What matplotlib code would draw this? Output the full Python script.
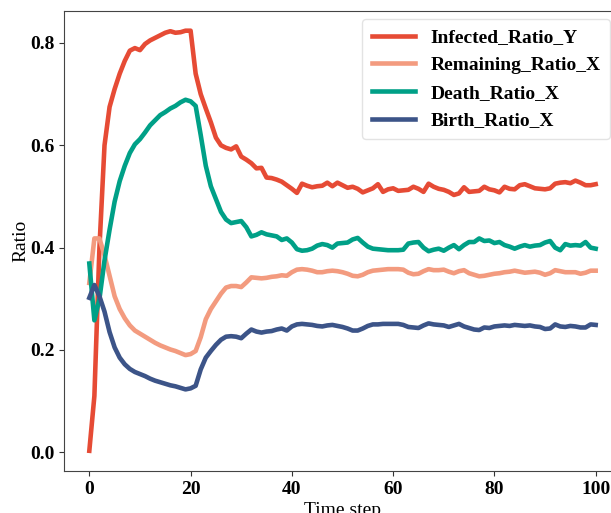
import matplotlib
matplotlib.use("Agg")
import matplotlib.pyplot as plt

steps = list(range(101))

infected_ratio_y = [
    0.003, 0.11, 0.40, 0.60, 0.675, 0.71, 0.74, 0.765, 0.785, 0.79,
    0.786, 0.798, 0.805, 0.81, 0.815, 0.82, 0.823, 0.82, 0.821, 0.824,
    0.824, 0.74, 0.70, 0.672, 0.645, 0.615, 0.60, 0.595, 0.592, 0.598,
    0.578, 0.572, 0.565, 0.555, 0.556, 0.537, 0.536, 0.533, 0.529, 0.522,
    0.515, 0.507, 0.525, 0.521, 0.518, 0.52, 0.521, 0.527, 0.52, 0.527,
    0.522, 0.517, 0.519, 0.515, 0.508, 0.512, 0.516, 0.524, 0.509, 0.514,
    0.516, 0.511, 0.512, 0.513, 0.519, 0.515, 0.509, 0.525, 0.519, 0.515,
    0.513, 0.509, 0.503, 0.506, 0.518, 0.509, 0.51, 0.511, 0.519, 0.514,
    0.512, 0.508, 0.519, 0.515, 0.514, 0.522, 0.524, 0.52, 0.516, 0.515,
    0.514, 0.516, 0.525, 0.527, 0.528, 0.526, 0.531, 0.527, 0.522, 0.522,
    0.524]

remaining_ratio_x = [
    0.331, 0.418, 0.418, 0.385, 0.345, 0.305, 0.28, 0.262, 0.248, 0.238,
    0.232, 0.226, 0.22, 0.214, 0.209, 0.205, 0.201, 0.198, 0.194, 0.19,
    0.192, 0.198, 0.225, 0.26, 0.28, 0.295, 0.31, 0.322, 0.325, 0.325,
    0.323, 0.332, 0.342, 0.341, 0.34, 0.341, 0.343, 0.344, 0.346, 0.345,
    0.352, 0.357, 0.358, 0.357, 0.355, 0.352, 0.352, 0.354, 0.355, 0.354,
    0.352, 0.349, 0.345, 0.344, 0.347, 0.352, 0.355, 0.356, 0.357, 0.358,
    0.358, 0.358, 0.357, 0.351, 0.348, 0.349, 0.354, 0.358, 0.356, 0.356,
    0.357, 0.353, 0.35, 0.354, 0.356, 0.35, 0.347, 0.344, 0.345, 0.347,
    0.349, 0.35, 0.352, 0.353, 0.355, 0.353, 0.351, 0.352, 0.353, 0.351,
    0.347, 0.35, 0.356, 0.354, 0.352, 0.352, 0.352, 0.349, 0.351, 0.355,
    0.355]

death_ratio_x = [
    0.369, 0.258, 0.30, 0.375, 0.435, 0.49, 0.53, 0.56, 0.585, 0.602,
    0.612, 0.625, 0.639, 0.649, 0.659, 0.665, 0.672, 0.677, 0.684, 0.689,
    0.686, 0.677, 0.62, 0.56, 0.52, 0.495, 0.47, 0.455, 0.448, 0.45,
    0.452, 0.44, 0.422, 0.425, 0.43, 0.426, 0.424, 0.422, 0.415, 0.418,
    0.41, 0.397, 0.394, 0.395, 0.398, 0.404, 0.407, 0.405, 0.40, 0.408,
    0.409, 0.41, 0.416, 0.419, 0.41, 0.402, 0.398, 0.397, 0.396, 0.395,
    0.395, 0.395, 0.396, 0.408, 0.41, 0.411, 0.40, 0.393, 0.396, 0.398,
    0.394, 0.40, 0.405, 0.397, 0.405, 0.411, 0.411, 0.418, 0.413, 0.414,
    0.409, 0.411, 0.405, 0.402, 0.398, 0.402, 0.405, 0.402, 0.404, 0.405,
    0.41, 0.413, 0.40, 0.395, 0.407, 0.404, 0.405, 0.404, 0.411, 0.40,
    0.398]

birth_ratio_x = [
    0.302, 0.327, 0.305, 0.275, 0.235, 0.205, 0.185, 0.172, 0.163, 0.157,
    0.153, 0.149, 0.144, 0.14, 0.137, 0.134, 0.131, 0.129, 0.126, 0.123,
    0.125, 0.13, 0.162, 0.185, 0.198, 0.21, 0.22, 0.226, 0.227, 0.226,
    0.223, 0.232, 0.24, 0.236, 0.234, 0.236, 0.237, 0.24, 0.242, 0.238,
    0.246, 0.25, 0.251, 0.25, 0.249, 0.247, 0.246, 0.248, 0.249, 0.247,
    0.245, 0.242, 0.238, 0.238, 0.242, 0.247, 0.25, 0.25, 0.251, 0.251,
    0.251, 0.251, 0.249, 0.245, 0.244, 0.243, 0.248, 0.252, 0.25, 0.249,
    0.248, 0.245, 0.248, 0.251, 0.246, 0.243, 0.24, 0.239, 0.244, 0.243,
    0.246, 0.247, 0.248, 0.247, 0.249, 0.248, 0.247, 0.248, 0.246, 0.245,
    0.241, 0.242, 0.25, 0.246, 0.245, 0.247, 0.246, 0.244, 0.244, 0.25,
    0.249]

series_names = ["Infected_Ratio_Y", "Remaining_Ratio_X", "Death_Ratio_X", "Birth_Ratio_X"]
series_colors = ["#E64B35", "#F39B7F", "#00A087", "#3C5488"]

plt.rcParams['font.family'] = ['Liberation Serif', 'DejaVu Serif']

fig = plt.figure(figsize=(6.11, 5.13), dpi=100)
ax = fig.add_axes([64 / 611, 42 / 513, 557 / 611, 460 / 513])

for vals, name, col in zip([infected_ratio_y, remaining_ratio_x, death_ratio_x, birth_ratio_x],
                           series_names, series_colors):
    ax.plot(steps, vals, color=col, lw=3.3, label=name)

ax.set_xlim(-5, 105)
ax.set_ylim(-0.0365, 0.8625)
ax.set_xticks([0, 20, 40, 60, 80, 100])
ax.set_yticks([0.0, 0.2, 0.4, 0.6, 0.8])
ax.set_yticklabels(["0.0", "0.2", "0.4", "0.6", "0.8"])
for lab in ax.get_xticklabels() + ax.get_yticklabels():
    lab.set_fontweight('bold')
    lab.set_fontsize(14)
ax.tick_params(colors='#333333', labelcolor='black')
for sp in ax.spines.values():
    sp.set_color('#444444')

ax.set_xlabel("Time step", fontsize=14, labelpad=3)
ax.set_ylabel("Ratio", fontsize=14, labelpad=0)

leg = ax.legend(loc='upper right', bbox_to_anchor=(610 / 611, 494 / 513),
                bbox_transform=fig.transFigure, borderaxespad=0,
                prop={'weight': 'bold', 'size': 14}, frameon=True,
                labelspacing=0.52, borderpad=0.5, handlelength=2.2)
leg.get_frame().set_edgecolor('#dddddd')

fig.savefig("out.png", dpi=100)
